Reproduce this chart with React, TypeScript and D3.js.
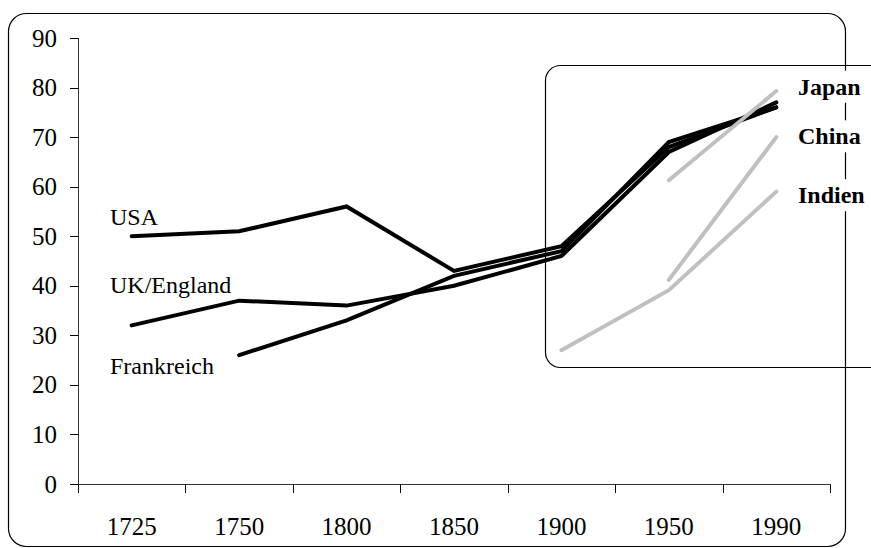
import React, { useEffect, useRef } from 'react';
import * as d3 from 'd3';

const years = ['1725', '1750', '1800', '1850', '1900', '1950', '1990'];
const yTicks = [0, 10, 20, 30, 40, 50, 60, 70, 80, 90];

// black series (null = no value)
const usa = [50, 51, 56, 43, 48, 68, 76];
const ukEngland = [32, 37, 36, 40, 46, 67, 77];
const frankreich = [null, 26, 33, 42, 47, 69, 76];

// grey series
const japan = [null, null, null, null, null, 61.3, 79.3];
const china = [null, null, null, null, null, 41.2, 70];
const indien = [null, null, null, null, 27, 39.1, 59];

const blackSeries = [
    { name: 'USA', values: usa, labelValue: 52.3 },
    { name: 'UK/England', values: ukEngland, labelValue: 38.5 },
    { name: 'Frankreich', values: frankreich, labelValue: 22.2 },
];
const greySeries = [
    { name: 'Japan', values: japan, labelValue: 80.2 },
    { name: 'China', values: china, labelValue: 70.2 },
    { name: 'Indien', values: indien, labelValue: 58.3 },
];

const W = 871;
const H = 548;
const FONT = '"Liberation Serif", "Times New Roman", serif';

const App: React.FC = () => {
    const svgRef = useRef<SVGSVGElement>(null);

    useEffect(() => {
        if (!svgRef.current) return;
        const svg = d3.select(svgRef.current);
        svg.selectAll('*').remove();

        const x = d3.scaleBand<string>().domain(years).range([78, 830]);
        const y = d3.scaleLinear().domain([0, 90]).range([484, 38]);
        const cx = (d: string) => (x(d) || 0) + x.bandwidth() / 2;

        // outer frame
        svg.append('rect')
            .attr('x', 8.5).attr('y', 13.5)
            .attr('width', 837).attr('height', 533)
            .attr('rx', 18)
            .attr('fill', 'none').attr('stroke', '#000').attr('stroke-width', 1.2);

        // inner highlight frame
        svg.append('rect')
            .attr('x', 545.5).attr('y', 65.5)
            .attr('width', 360).attr('height', 302)
            .attr('rx', 15)
            .attr('fill', 'none').attr('stroke', '#000').attr('stroke-width', 1.2);

        const axisG = svg.append('g').attr('font-family', FONT);

        // y axis
        axisG.append('line')
            .attr('x1', 78.5).attr('x2', 78.5)
            .attr('y1', y(90)).attr('y2', y(0))
            .attr('stroke', '#333');
        axisG.selectAll('.ytick')
            .data(yTicks)
            .enter()
            .append('line')
            .attr('x1', 70).attr('x2', 78.5)
            .attr('y1', d => Math.round(y(d)) + 0.5)
            .attr('y2', d => Math.round(y(d)) + 0.5)
            .attr('stroke', '#000');
        axisG.selectAll('.ylab')
            .data(yTicks)
            .enter()
            .append('text')
            .attr('x', 57)
            .attr('y', d => y(d))
            .attr('dy', '0.34em')
            .attr('text-anchor', 'end')
            .attr('font-size', 25)
            .text(d => d);

        // x axis
        axisG.append('line')
            .attr('x1', 78).attr('x2', 830.5)
            .attr('y1', 484.5).attr('y2', 484.5)
            .attr('stroke', '#333');
        const bounds = years.map(d => x(d) || 0).concat([x.range()[1]]);
        axisG.selectAll('.xtick')
            .data(bounds)
            .enter()
            .append('line')
            .attr('x1', d => Math.round(d) + 0.5)
            .attr('x2', d => Math.round(d) + 0.5)
            .attr('y1', 484.5).attr('y2', 493)
            .attr('stroke', '#000');
        axisG.selectAll('.xlab')
            .data(years)
            .enter()
            .append('text')
            .attr('x', d => cx(d))
            .attr('y', 535)
            .attr('text-anchor', 'middle')
            .attr('font-size', 25)
            .text(d => d);

        const line = d3.line<number | null>()
            .defined(d => d !== null)
            .x((_, i) => cx(years[i]))
            .y(d => y(d as number));

        // black lines
        svg.selectAll('.black')
            .data(blackSeries)
            .enter()
            .append('path')
            .attr('d', d => line(d.values))
            .attr('fill', 'none')
            .attr('stroke', '#000')
            .attr('stroke-width', 4)
            .attr('stroke-linecap', 'round');

        // grey lines
        svg.selectAll('.grey')
            .data(greySeries)
            .enter()
            .append('path')
            .attr('d', d => line(d.values))
            .attr('fill', 'none')
            .attr('stroke', '#c0c0c0')
            .attr('stroke-width', 4)
            .attr('stroke-linecap', 'round');

        // left labels
        svg.selectAll('.llab')
            .data(blackSeries)
            .enter()
            .append('text')
            .attr('x', (x(years[0]) || 0) + 32)
            .attr('y', d => y(d.labelValue))
            .attr('font-family', FONT)
            .attr('font-size', 24)
            .text(d => d.name);

        // right labels with white background
        const rg = svg.selectAll('.rlab')
            .data(greySeries)
            .enter()
            .append('g');
        const bg = rg.append('rect').attr('fill', '#fff');
        const rt = rg.append('text')
            .attr('x', 798)
            .attr('y', d => y(d.labelValue))
            .attr('dy', '0.34em')
            .attr('font-family', FONT)
            .attr('font-size', 24)
            .attr('font-weight', 'bold')
            .text(d => d.name);
        rt.each(function (_, i) {
            const b = (this as SVGTextElement).getBBox();
            d3.select(bg.nodes()[i])
                .attr('x', b.x - 4).attr('y', b.y - 3)
                .attr('width', b.width + 8).attr('height', b.height + 6);
        });
    }, []);

    return (
        <svg
            ref={svgRef}
            width={W}
            height={H}
            style={{ position: 'absolute', left: 0, top: 0, background: '#fff' }}
        />
    );
};

export default App;
